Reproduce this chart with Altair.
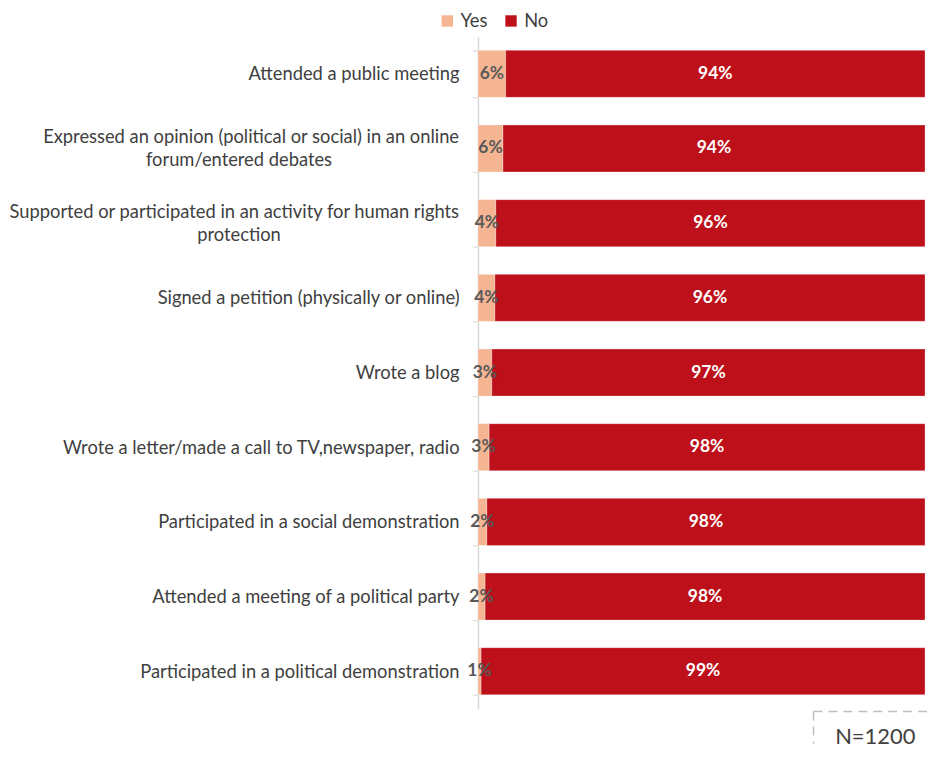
import altair as alt
import pandas as pd

activities = [
    "Attended a public meeting",
    "Expressed an opinion (political or social) in an online\nforum/entered debates",
    "Supported or participated in an activity for human rights\nprotection",
    "Signed a petition (physically or online)",
    "Wrote a blog",
    "Wrote a letter/made a call to TV,newspaper, radio",
    "Participated in a social demonstration",
    "Attended a meeting of a political party",
    "Participated in a political demonstration",
]
yes_vals = [6.2, 5.6, 4.0, 3.8, 3.1, 2.5, 2.0, 1.6, 0.7]
no_vals = [93.8, 94.4, 96.0, 96.2, 96.9, 97.5, 98.0, 98.4, 99.3]
responses = ["Yes", "No"]
colors = ["#F5B592", "#BE101A"]
note_text = ["N=1200"]

rows = []
for a, y, n in zip(activities, yes_vals, no_vals):
    rows.append({"activity": a, "response": "Yes", "value": y, "ord": 0})
    rows.append({"activity": a, "response": "No", "value": n, "ord": 1})
df = pd.DataFrame(rows)

wrapped = pd.DataFrame(
    [
        {"activity": a, "line1": a.split("\n")[0], "line2": a.split("\n")[1]}
        for a in activities
        if "\n" in a
    ]
)

FONT = "Lato"
LABEL_SIZE = 18.4
xscale = alt.Scale(domain=[0, 100], nice=False)

y_enc = alt.Y(
    "activity:N",
    sort=activities,
    title=None,
    scale=alt.Scale(paddingInner=0.37, paddingOuter=0.185),
    axis=alt.Axis(
        labelExpr="indexof(datum.label, '\\n') >= 0 ? '' : datum.label",
        labelFont=FONT,
        labelFontSize=LABEL_SIZE,
        labelColor="#404040",
        labelPadding=13,
        labelLimit=700,
        tickBand="extent",
        tickSize=6,
        tickColor="#D9D9D9",
        domainColor="#D9D9D9",
        domainWidth=1.5,
        grid=False,
    ),
)

stacked = alt.Chart(df).transform_stack(
    stack="value", groupby=["activity"], as_=["x0", "x1"], sort=[alt.SortField("ord")]
)

bars = stacked.mark_bar(stroke="white", strokeWidth=0.3).encode(
    x=alt.X("x0:Q", scale=xscale, axis=None),
    x2="x1:Q",
    y=y_enc,
    color=alt.Color(
        "response:N",
        scale=alt.Scale(domain=responses, range=colors),
        legend=alt.Legend(
            title=None,
            orient="none",
            legendX=-40,
            legendY=-25,
            direction="horizontal",
            symbolType="square",
            symbolSize=130,
            symbolStrokeWidth=0,
            labelFont=FONT,
            labelFontSize=LABEL_SIZE,
            labelColor="#404040",
            columnPadding=14,
            labelOffset=4,
        ),
    ),
)

labels = stacked.transform_calculate(
    mid="(datum.x0 + datum.x1) / 2",
    label="format(datum.value, '.0f') + '%'",
).mark_text(font=FONT, fontSize=17.5, fontWeight="bold").encode(
    x=alt.X("mid:Q", scale=xscale, axis=None),
    y=alt.Y("activity:N", sort=activities),
    text="label:N",
    color=alt.Color(
        "response:N",
        scale=alt.Scale(domain=responses, range=["#595959", "#FFFFFF"]),
        legend=None,
    ),
)

wrap1 = alt.Chart(wrapped).mark_text(
    font=FONT, fontSize=LABEL_SIZE, color="#404040", align="right", baseline="middle", dy=-11.5
).encode(x=alt.value(-19), y=alt.Y("activity:N", sort=activities), text="line1:N")
wrap2 = alt.Chart(wrapped).mark_text(
    font=FONT, fontSize=LABEL_SIZE, color="#404040", align="center", baseline="middle", dy=11.5
).encode(x=alt.value(-240), y=alt.Y("activity:N", sort=activities), text="line2:N")

note_df = pd.DataFrame({"note": note_text})
box_top = alt.Chart(note_df).mark_rule(
    stroke="#BFBFBF", strokeWidth=1.5, strokeDash=[9, 6]
).encode(x=alt.value(337), x2=alt.value(454), y=alt.value(678))
box_left = alt.Chart(note_df).mark_rule(
    stroke="#BFBFBF", strokeWidth=1.5, strokeDash=[9, 6]
).encode(x=alt.value(337), y=alt.value(678), y2=alt.value(710))
note = alt.Chart(note_df).mark_text(
    font=FONT, fontSize=22, color="#404040", align="center", baseline="middle"
).encode(x=alt.value(399), y=alt.value(704), text="note:N")

chart = alt.layer(bars, labels, wrap1, wrap2, box_top, box_left, note).resolve_scale(
    color="independent"
).properties(
    width=449, height=675, padding={"left": 0, "top": 2, "right": 0, "bottom": 0}
).configure(font=FONT).configure_view(stroke=None)

chart.save("out.html", embed_options={"renderer": "svg", "actions": False})
